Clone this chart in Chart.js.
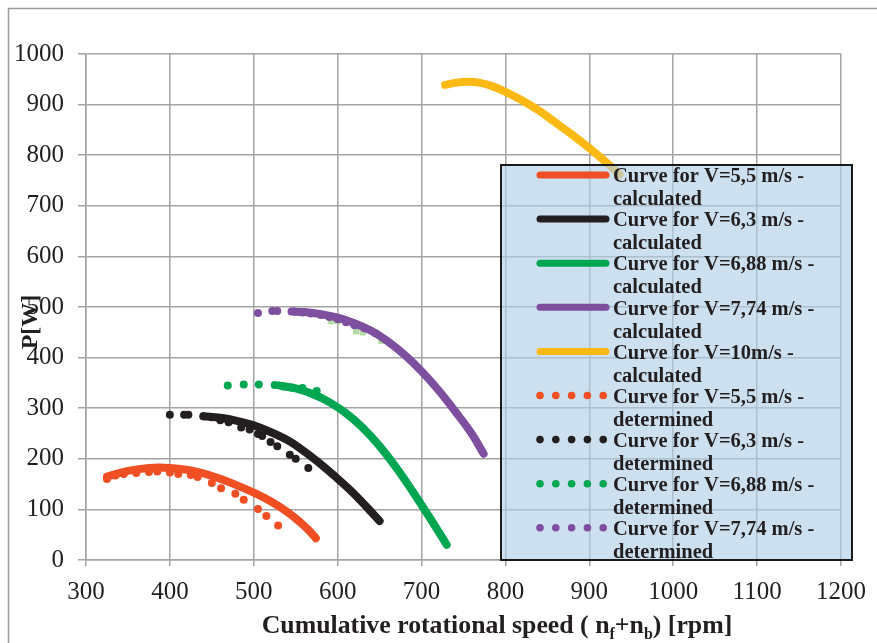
<!DOCTYPE html>
<html>
<head>
<meta charset="utf-8">
<script src="https://cdn.jsdelivr.net/npm/chart.js@4.4.0/dist/chart.umd.min.js"></script>
<style>
  html, body { margin: 0; padding: 0; background: #fff; }
  canvas { display: block; }
</style>
</head>
<body>
<canvas id="powerChart" width="877" height="643"></canvas>
<script>
// calculated curves (rpm, W)
const calc55Rpm = [325, 350, 375, 400, 425, 450, 475, 500, 520, 540, 555, 566, 574];
const calc55Pow = [165, 176, 182, 182, 177, 166, 151, 133, 116, 95, 75, 58, 43];
const calc63Rpm = [440, 460, 480, 500, 520, 540, 555, 575, 595, 615, 635, 650];
const calc63Pow = [284, 281, 275, 266, 253, 237, 221, 196, 168, 138, 104, 77];
const calc688Rpm = [530, 550, 570, 590, 610, 630, 650, 670, 690, 710, 730];
const calc688Pow = [345, 339, 328, 312, 290, 261, 225, 182, 134, 83, 30];
const calc774Rpm = [545, 560, 580, 600, 620, 640, 660, 680, 700, 720, 740, 760, 774];
const calc774Pow = [491, 490, 486, 479, 468, 453, 432, 405, 373, 336, 294, 249, 210];
const calc10Rpm = [728, 740, 755, 770, 785, 800, 820, 840, 860, 880, 900, 920, 936];
const calc10Pow = [939, 943, 945, 943, 936, 925, 908, 888, 864, 840, 814, 786, 762];

// measured points (rpm, W)
const det55Rpm = [325, 335, 345, 360, 375, 385, 400, 410, 425, 433, 450, 461, 478, 488, 505, 515, 529];
const det55Pow = [160, 167, 170, 172, 174, 175, 173, 170, 168, 164, 152, 142, 131, 119, 101, 87, 68];
const det63Rpm = [400, 417, 422, 440, 450, 460, 470, 485, 495, 505, 510, 520, 528, 543, 550, 565];
const det63Pow = [287, 287, 287, 284, 282, 276, 272, 262, 258, 249, 245, 233, 225, 208, 200, 182];
const det688Rpm = [469, 488, 506, 525, 535, 545, 558, 575];
const det688Pow = [345, 347, 347, 346, 343, 341, 340, 334];
const det774Rpm = [505, 522, 528, 548, 558, 568, 580, 590, 600, 610, 620, 632, 645];
const det774Pow = [488, 492, 492, 491, 489, 487, 484, 480, 476, 470, 464, 458, 448];
// stray light-green marks behind the 7,74 curve
const strayRpm = [592, 600, 622, 630, 652, 662];
const strayPow = [472, 472, 452, 450, 433, 430];

const calcNames = ['V=5,5 m/s', 'V=6,3 m/s', 'V=6,88 m/s', 'V=7,74 m/s', 'V=10m/s'];
const detNames = ['V=5,5 m/s', 'V=6,3 m/s', 'V=6,88 m/s', 'V=7,74 m/s'];
const colors = ['#f04e23', '#231f20', '#00a651', '#7d4f9e', '#fdb913'];

const pts = (xs, ys) => xs.map((x, i) => ({ x: x, y: ys[i] }));

const calcSets = [
    [calc55Rpm, calc55Pow], [calc63Rpm, calc63Pow], [calc688Rpm, calc688Pow],
    [calc774Rpm, calc774Pow], [calc10Rpm, calc10Pow]
].map((s, i) => ({
    label: ['Curve for ' + calcNames[i] + ' -', 'calculated'],
    data: pts(s[0], s[1]),
    borderColor: colors[i],
    backgroundColor: colors[i],
    borderWidth: 8,
    borderCapStyle: 'round',
    borderJoinStyle: 'round',
    tension: 0.4,
    pointRadius: 0,
    showLine: true,
    isCalc: true
}));

const detSets = [
    [det55Rpm, det55Pow], [det63Rpm, det63Pow], [det688Rpm, det688Pow], [det774Rpm, det774Pow]
].map((s, i) => ({
    label: ['Curve for ' + detNames[i] + ' -', 'determined'],
    data: pts(s[0], s[1]),
    borderColor: colors[i],
    backgroundColor: colors[i],
    pointRadius: 4,
    pointBorderWidth: 0,
    showLine: false
}));

const straySet = {
    label: null,
    data: pts(strayRpm, strayPow),
    pointStyle: 'rect',
    pointRadius: 4.5,
    pointBorderWidth: 0,
    backgroundColor: '#b7dba7',
    showLine: false,
    order: 20
};

const textColor = '#231f20';
const gridColor = '#a3a3a3';

// legend box + axis titles drawn by hand
const decorPlugin = {
    id: 'decor',
    beforeDraw(chart) {
        const ctx = chart.ctx;
        ctx.save();
        ctx.strokeStyle = '#9a9a9a';
        ctx.lineWidth = 1.5;
        ctx.beginPath();
        ctx.moveTo(8.5, 900);
        ctx.lineTo(8.5, 8.5);
        ctx.lineTo(900, 8.5);
        ctx.stroke();
        ctx.restore();
    },
    afterDatasetsDraw(chart) {
        const ctx = chart.ctx;
        ctx.save();
        // legend box
        const bx = 501, by = 165, bw = 351, bh = 395;
        ctx.fillStyle = 'rgba(178, 207, 232, 0.65)';
        ctx.fillRect(bx, by, bw, bh);
        ctx.strokeStyle = '#1a1a1a';
        ctx.lineWidth = 2;
        ctx.strokeRect(bx, by, bw, bh);

        const items = chart.data.datasets.filter(d => d.label);
        ctx.font = 'bold 20.5px "Liberation Serif", "Times New Roman", serif';
        ctx.textBaseline = 'middle';
        ctx.fillStyle = textColor;
        items.forEach((d, i) => {
            const y = 175 + i * 44.1;
            if (d.isCalc) {
                ctx.strokeStyle = d.borderColor;
                ctx.lineWidth = 7;
                ctx.lineCap = 'round';
                ctx.beginPath();
                ctx.moveTo(540, y);
                ctx.lineTo(606, y);
                ctx.stroke();
            } else {
                ctx.fillStyle = d.backgroundColor;
                for (let k = 0; k < 5; k++) {
                    ctx.beginPath();
                    ctx.arc(540 + k * 15.8, y, 3.8, 0, Math.PI * 2);
                    ctx.fill();
                }
            }
            ctx.fillStyle = textColor;
            ctx.fillText(d.label[0], 613, y + 2);
            ctx.fillText(d.label[1], 613, y + 25);
        });

        // y title
        ctx.save();
        ctx.translate(31, 322);
        ctx.rotate(-Math.PI / 2);
        ctx.font = 'bold 24px "Liberation Serif", "Times New Roman", serif';
        ctx.textAlign = 'center';
        ctx.textBaseline = 'middle';
        ctx.fillText('P[W]', 0, 0);
        ctx.restore();

        // x title with subscripts
        const big = 'bold 25.8px "Liberation Serif", "Times New Roman", serif';
        const small = 'bold 16px "Liberation Serif", "Times New Roman", serif';
        const parts = [
            ['Cumulative rotational speed ( n', big, 0],
            ['f', small, 6],
            ['+n', big, 0],
            ['b', small, 6],
            [') [rpm]', big, 0]
        ];
        let total = 0;
        parts.forEach(p => { ctx.font = p[1]; total += ctx.measureText(p[0]).width; });
        let x = 497 - total / 2;
        ctx.textBaseline = 'alphabetic';
        ctx.textAlign = 'left';
        parts.forEach(p => {
            ctx.font = p[1];
            ctx.fillText(p[0], x, 633 + p[2]);
            x += ctx.measureText(p[0]).width;
        });
        ctx.restore();
    }
};

const tickFont = { family: '"Liberation Serif", "Times New Roman", serif', size: 25 };
const plainTick = v => String(v);

new Chart(document.getElementById('powerChart').getContext('2d'), {
    type: 'scatter',
    data: { datasets: [...calcSets, ...detSets, straySet] },
    options: {
        responsive: false,
        animation: false,
        devicePixelRatio: 1,
        layout: { padding: { top: 54, right: 36, left: 0, bottom: 0 } },
        plugins: { legend: { display: false }, tooltip: { enabled: false } },
        scales: {
            x: {
                type: 'linear', min: 300, max: 1200,
                ticks: { stepSize: 100, font: tickFont, color: textColor, padding: 11, maxRotation: 0, callback: plainTick },
                grid: { color: gridColor, lineWidth: 1.5, tickLength: 6 },
                border: { color: gridColor, width: 1.5 },
                afterFit(scale) { scale.height = 83; }
            },
            y: {
                min: 0, max: 1000,
                ticks: { stepSize: 100, font: tickFont, color: textColor, padding: 14, callback: plainTick },
                grid: { color: gridColor, lineWidth: 1.5, tickLength: 8 },
                border: { color: gridColor, width: 1.5 },
                afterFit(scale) { scale.width = 86; }
            }
        }
    },
    plugins: [decorPlugin]
});
</script>
</body>
</html>
